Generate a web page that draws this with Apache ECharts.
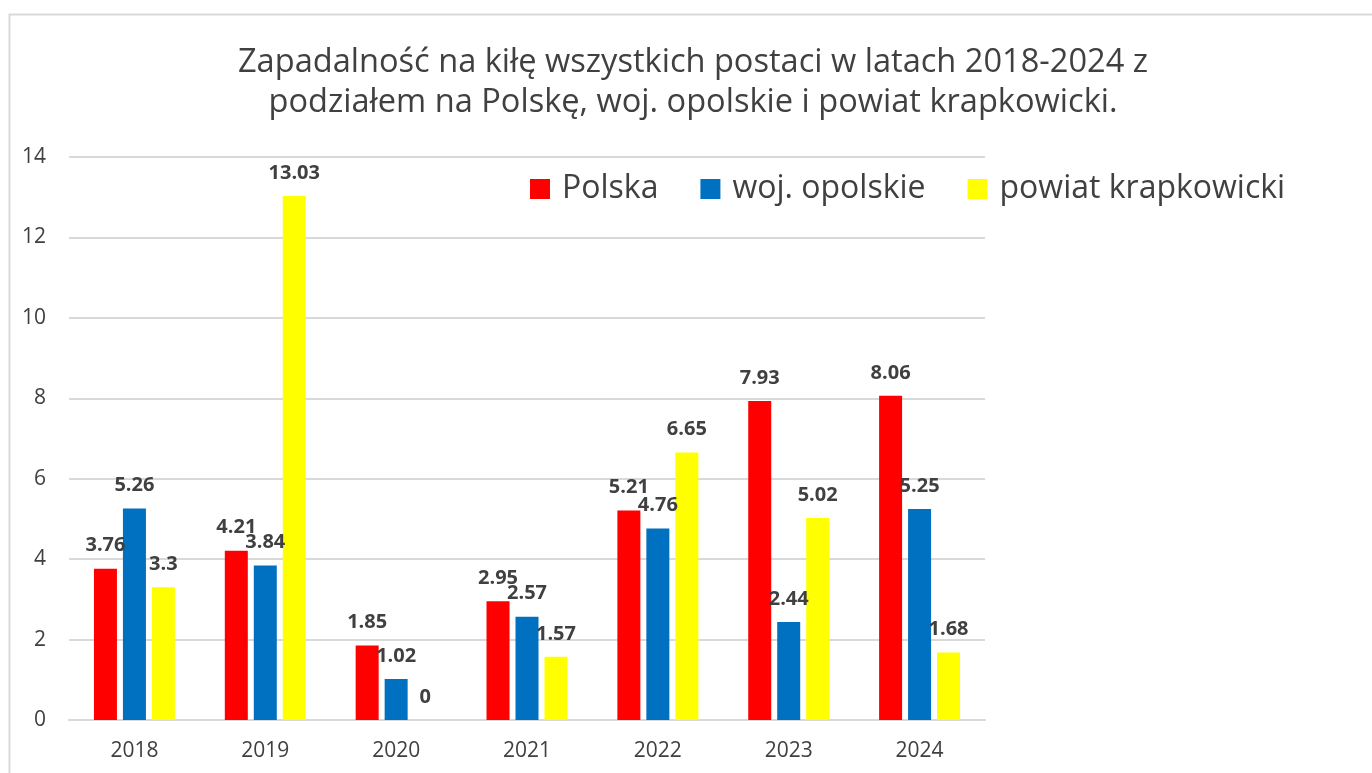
<!DOCTYPE html>
<html><head><meta charset="utf-8">
<script src="https://cdn.jsdelivr.net/npm/echarts@6/dist/echarts.min.js"></script>
<style>html,body{margin:0;padding:0;background:#fff}#c{width:1372px;height:773px}</style>
</head><body><div id="c"></div>
<script>
const categories = ['2018','2019','2020','2021','2022','2023','2024'];
const polska = [3.76, 4.21, 1.85, 2.95, 5.21, 7.93, 8.06];
const opolskie = [5.26, 3.84, 1.02, 2.57, 4.76, 2.44, 5.25];
const krapkowicki = [3.3, 13.03, 0, 1.57, 6.65, 5.02, 1.68];
const seriesNames = ['Polska', 'woj. opolskie', 'powiat krapkowicki'];
const colors = ['#FF0000', '#0070C0', '#FFFF00'];
const FONT = 'Open Sans';

const chart = echarts.init(document.getElementById('c'));
const lbl = {show: true, position: 'top', distance: 13, color: '#404040', fontSize: 20, fontWeight: 'bold', fontFamily: FONT};
chart.setOption({
  animation: false,
  textStyle: {fontFamily: FONT},
  graphic: [{type: 'rect', shape: {x: 9.5, y: 14.5, width: 1400, height: 800}, style: {fill: 'none', stroke: '#D9D9D9', lineWidth: 2}}],
  title: {
    text: 'Zapadalność na kiłę wszystkich postaci w latach 2018-2024 z\npodziałem na Polskę, woj. opolskie i powiat krapkowicki.',
    left: 688, top: 38, textAlign: 'center',
    textStyle: {fontFamily: FONT, fontSize: 32.6, fontWeight: 'normal', color: '#404040', lineHeight: 40}
  },
  legend: {
    data: seriesNames, left: 525, top: 168, itemWidth: 20, itemHeight: 20, itemGap: 42,
    icon: 'rect',
    textStyle: {fontFamily: FONT, fontSize: 32, color: '#404040', padding: [0,0,0,7]}
  },
  grid: {left: 69, right: 387, top: 157, bottom: 53},
  xAxis: {
    type: 'category', data: categories,
    axisLine: {lineStyle: {color: '#D9D9D9', width: 2}}, axisTick: {show: false},
    axisLabel: {color: '#404040', fontSize: 21, margin: 21, fontFamily: FONT}
  },
  yAxis: {
    type: 'value', min: 0, max: 14, interval: 2,
    axisLine: {show: false}, axisTick: {show: false},
    splitLine: {lineStyle: {color: '#D9D9D9', width: 2}},
    axisLabel: {color: '#404040', fontSize: 21, margin: 23, fontFamily: FONT}
  },
  series: [
    {name: seriesNames[0], type: 'bar', data: polska, itemStyle: {color: colors[0]}, barWidth: 23, barGap: '26%', label: lbl},
    {name: seriesNames[1], type: 'bar', data: opolskie, itemStyle: {color: colors[1]}, barWidth: 23, barGap: '26%', label: lbl},
    {name: seriesNames[2], type: 'bar', data: krapkowicki, itemStyle: {color: colors[2]}, barWidth: 23, barGap: '26%', label: lbl}
  ]
});
</script></body></html>
